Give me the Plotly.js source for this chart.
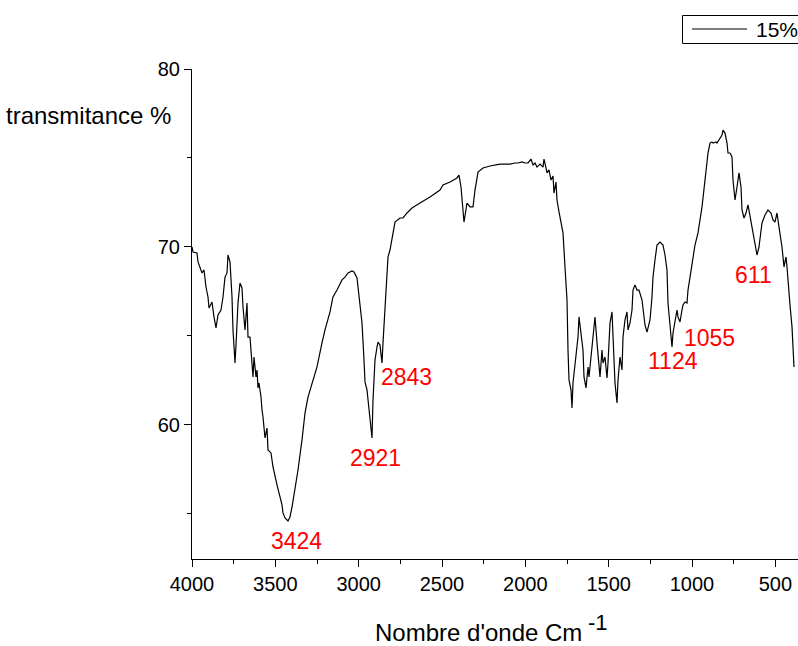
<!DOCTYPE html>
<html>
<head>
<meta charset="utf-8">
<script src="https://cdn.plot.ly/plotly-3.0.1.min.js"></script>
<style>
html,body{margin:0;padding:0;overflow:hidden;background:#fff;}
#chart{width:840px;height:646px;}
</style>
</head>
<body>
<div id="chart"></div>
<script>
// Wavenumber (cm-1) and transmittance (%)
const wavenumber = [4000,3994,3970,3964,3940,3928,3916,3904,3898,3880,3868,3856,3844,3826,3814,3802,3790,3784,3772,3760,3754,3742,3736,3730,3724,3712,3700,3694,3682,3670,3664,3652,3640,3634,3628,3616,3610,3604,3598,3586,3580,3574,3562,3550,3544,3526,3514,3502,3490,3472,3460,3454,3442,3424,3412,3400,3382,3364,3340,3322,3304,3280,3250,3220,3202,3172,3154,3130,3100,3082,3064,3040,3028,3010,2998,2980,2968,2962,2950,2938,2920,2914,2902,2890,2884,2872,2860,2854,2842,2830,2824,2812,2782,2752,2734,2710,2680,2632,2572,2512,2494,2452,2410,2398,2386,2368,2350,2332,2314,2302,2284,2254,2212,2152,2092,2062,2044,2020,2002,1984,1966,1954,1942,1930,1912,1894,1888,1876,1870,1858,1846,1834,1828,1816,1810,1798,1780,1774,1762,1750,1744,1738,1726,1720,1714,1702,1690,1684,1678,1666,1654,1648,1636,1624,1618,1606,1594,1582,1570,1564,1552,1540,1534,1522,1510,1504,1492,1480,1474,1462,1450,1444,1432,1420,1414,1402,1390,1384,1372,1360,1354,1342,1330,1318,1300,1294,1282,1270,1252,1240,1234,1222,1210,1192,1174,1162,1150,1144,1132,1120,1114,1102,1090,1084,1072,1060,1054,1042,1030,1024,1000,982,964,940,922,904,892,880,874,856,850,838,820,814,802,790,784,772,760,754,742,730,718,706,700,688,676,664,652,640,628,616,610,598,580,562,544,526,514,502,490,478,460,448,436,430,418,412,400,388];
const transmittance = [70.00,69.72,69.66,69.16,68.54,68.71,67.75,67.19,66.57,66.91,66.07,65.45,66.18,66.46,67.19,68.31,68.54,69.55,69.16,67.19,65.34,63.48,64.49,65.73,66.85,67.98,67.70,66.63,65.34,66.85,64.94,64.94,63.65,62.70,63.82,62.70,63.09,62.08,62.36,61.57,60.84,60.45,59.27,59.83,58.60,58.43,57.64,57.08,56.63,55.96,55.51,55.06,54.78,54.61,54.83,55.39,56.35,57.47,59.16,60.67,61.57,62.36,63.26,64.61,65.34,66.35,67.19,67.58,68.15,68.31,68.54,68.65,68.60,68.26,67.19,65.73,63.65,62.42,61.97,60.84,59.27,61.40,63.65,64.38,64.66,64.49,63.48,64.61,66.46,68.31,69.44,69.83,71.40,71.63,71.63,71.91,72.19,72.47,72.81,73.20,73.48,73.65,73.88,74.04,73.37,71.40,72.47,72.25,72.25,73.20,74.21,74.44,74.55,74.66,74.66,74.72,74.72,74.78,74.72,74.72,74.94,74.61,74.72,74.49,74.66,74.49,74.94,74.44,74.16,74.33,73.76,73.99,73.03,73.65,72.64,71.97,71.12,70.79,68.88,67.02,64.21,62.53,61.97,60.96,62.36,63.48,64.61,64.94,66.07,65.22,64.21,62.70,62.08,63.26,62.70,63.82,64.94,66.07,64.61,63.82,62.70,64.21,63.48,63.82,62.64,63.48,65.73,66.35,64.94,62.36,61.24,62.53,63.82,63.09,64.94,65.90,66.35,65.34,65.73,66.46,67.58,67.87,67.58,67.58,67.02,66.46,65.62,65.22,65.90,67.19,68.31,69.27,70.11,70.28,70.11,69.55,68.71,66.85,65.34,64.38,65.17,65.90,66.46,66.07,65.79,66.46,66.74,66.91,66.85,67.58,69.10,70.11,70.79,72.25,73.76,75.28,75.84,75.90,75.84,75.90,75.84,76.01,76.29,76.57,76.40,75.84,75.28,75.28,75.06,73.76,72.64,73.37,74.16,73.37,72.08,71.63,71.91,72.36,71.69,71.12,70.39,69.72,69.55,70.00,71.35,71.80,72.08,71.91,71.52,71.40,71.91,71.12,70.00,68.88,69.44,68.88,67.02,66.74,65.51,63.26];

// Peak labels
const peakLabels = ["3424","2921","2843","1124","1055","611"];
const peakLabelX = [3376,2902,2716,1114,898,634];
const peakLabelY = [53.48,58.15,62.70,63.60,64.89,68.43];

const seriesName = "15%";
const xTitle = "Nombre d'onde Cm";
const xTitleSup = "-1";
const yTitle = "transmitance %";

const FONT = "Arial, 'Liberation Sans', sans-serif";

// pixel helpers for paper-positioned decorations (plot area: x 192..830, y 69..559)
const PL = 192, PW = 638, PB = 559, PH = 490;
const px = v => (v - PL) / PW;
const py = v => (PB - v) / PH;

const trace = {
  x: wavenumber, y: transmittance, type: 'scatter', mode: 'lines',
  name: seriesName, line: {color: '#000', width: 1.2}, showlegend: false
};

const annotations = peakLabels.map((t, i) => ({
  x: peakLabelX[i], y: peakLabelY[i], xref: 'x', yref: 'y',
  text: t, showarrow: false, font: {family: FONT, size: 23, color: '#ff0000'},
  xanchor: 'center', yanchor: 'middle'
}));
annotations.push({
  xref: 'paper', yref: 'paper', x: px(4), y: py(115), xanchor: 'left', yanchor: 'middle',
  text: yTitle, showarrow: false, font: {family: FONT, size: 24, color: '#000'}
});
annotations.push({
  xref: 'paper', yref: 'paper', x: px(373), y: py(632), xanchor: 'left', yanchor: 'middle',
  text: xTitle, showarrow: false, font: {family: FONT, size: 24, color: '#000'}
});
annotations.push({
  xref: 'paper', yref: 'paper', x: px(586), y: py(622), xanchor: 'left', yanchor: 'middle',
  text: xTitleSup, showarrow: false, font: {family: FONT, size: 22, color: '#000'}
});
// legend text
annotations.push({
  xref: 'paper', yref: 'paper', x: px(754), y: py(30), xanchor: 'left', yanchor: 'middle',
  text: seriesName, showarrow: false, font: {family: FONT, size: 21, color: '#000'}
});

const shapes = [
  {type: 'rect', xref: 'paper', yref: 'paper', x0: px(682.5), x1: px(900), y0: py(43.5), y1: py(15.5),
   line: {color: '#000', width: 1}, fillcolor: '#fff', layer: 'above'},
  {type: 'line', xref: 'paper', yref: 'paper', x0: px(692), x1: px(747), y0: py(29), y1: py(29),
   line: {color: '#000', width: 1.2}, layer: 'above'}
];

const layout = {
  width: 840, height: 646,
  margin: {l: 192, r: 10, t: 69, b: 87},
  paper_bgcolor: '#fff', plot_bgcolor: '#fff',
  font: {family: FONT, size: 20, color: '#000'},
  showlegend: false,
  xaxis: {
    range: [4000, 172], showgrid: false, zeroline: false,
    showline: true, linecolor: '#000', linewidth: 1,
    ticks: 'outside', ticklen: 7, tickcolor: '#000', tickwidth: 1,
    tick0: 0, dtick: 500,
    minor: {ticks: 'outside', ticklen: 4, tickcolor: '#000', dtick: 250, tick0: 0, showgrid: false},
    tickfont: {family: FONT, size: 20, color: '#000'}
  },
  yaxis: {
    range: [52.47, 80], showgrid: false, zeroline: false,
    showline: true, linecolor: '#000', linewidth: 1,
    ticks: 'outside', ticklen: 7, tickcolor: '#000', tickwidth: 1,
    tick0: 0, dtick: 10,
    minor: {ticks: 'outside', ticklen: 4, tickcolor: '#000', dtick: 5, tick0: 0, showgrid: false},
    tickfont: {family: FONT, size: 20, color: '#000'}
  },
  shapes: shapes,
  annotations: annotations
};

Plotly.newPlot('chart', [trace], layout, {displayModeBar: false, staticPlot: true});
</script>
</body>
</html>
